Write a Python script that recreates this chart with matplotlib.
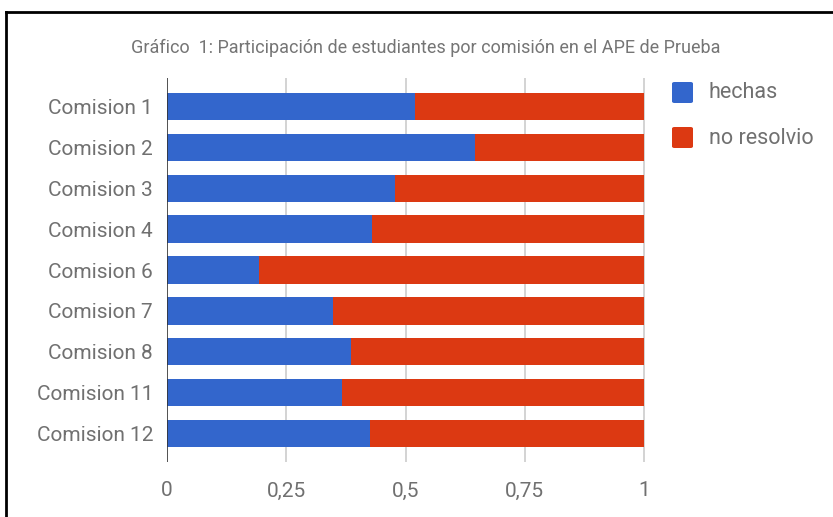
import matplotlib
matplotlib.use("Agg")
import matplotlib.pyplot as plt
from matplotlib.patches import FancyBboxPatch
from matplotlib.lines import Line2D

plt.rcParams["font.family"] = ["Roboto", "DejaVu Sans"]

# ── Data ────────────────────────────────────────────────────
comisiones = ["Comision 1", "Comision 2", "Comision 3", "Comision 4", "Comision 6",
              "Comision 7", "Comision 8", "Comision 11", "Comision 12"]
hechas = [0.52, 0.645, 0.478, 0.429, 0.192, 0.347, 0.385, 0.366, 0.425]
no_resolvio = [1 - h for h in hechas]
series_names = ["hechas", "no resolvio"]
xticks = [0, 0.25, 0.5, 0.75, 1]
xtick_labels = ["0", "0,25", "0,5", "0,75", "1"]

COLORS = {"hechas": "#3366CC", "no resolvio": "#DC3912"}
TEXT_GRAY = "#707070"

W, H = 833, 517
fig = plt.figure(figsize=(W / 100, H / 100), dpi=100)
ax = fig.add_axes([167 / W, 1 - 462 / H, (645 - 167) / W, (462 - 78) / H])

y = list(range(len(comisiones)))
ax.barh(y, hechas, height=0.67, color=COLORS["hechas"], zorder=3)
ax.barh(y, no_resolvio, left=hechas, height=0.67, color=COLORS["no resolvio"], zorder=3)

ax.set_ylim(len(comisiones) - 0.5 + 0.195, -0.5 - 0.195)
ax.set_xlim(0, 1.002)
ax.set_yticks(y)
ax.set_yticklabels(comisiones, fontsize=15, color=TEXT_GRAY)
ax.set_xticks(xticks)
ax.set_xticklabels(xtick_labels, fontsize=15, color=TEXT_GRAY)
ax.tick_params(length=0)
ax.tick_params(axis="y", pad=10)
ax.tick_params(axis="x", pad=14)

for sp in ax.spines.values():
    sp.set_visible(False)
for xv in xticks[1:]:
    ax.axvline(xv, color="#cccccc", linewidth=1.2, zorder=1)
ax.axvline(0, color="#333333", linewidth=1.2, zorder=4)

fig.text(426 / W, 1 - 48 / H,
         "Gráfico  1: Participación de estudiantes por comisión en el APE de Prueba",
         ha="center", va="center", fontsize=13, color="#757575")

# legend
for i, name in enumerate(series_names):
    cy = 93 + i * 45
    fig.patches.append(FancyBboxPatch((672 / W, 1 - (cy + 10) / H), 21 / W, 21 / H,
                                      boxstyle="round,pad=0,rounding_size=0.003",
                                      transform=fig.transFigure, facecolor=COLORS[name],
                                      edgecolor="none"))
    fig.text(709 / W, 1 - cy / H, name, ha="left", va="center", fontsize=15.5, color=TEXT_GRAY)

# outer frame (only top and left visible in the crop)
fig.add_artist(Line2D([6 / W, 1], [1 - 12 / H, 1 - 12 / H], color="black", linewidth=2,
                      transform=fig.transFigure))
fig.add_artist(Line2D([6 / W, 6 / W], [0, 1 - 12 / H], color="black", linewidth=2,
                      transform=fig.transFigure))

fig.savefig("out.png", dpi=100)
